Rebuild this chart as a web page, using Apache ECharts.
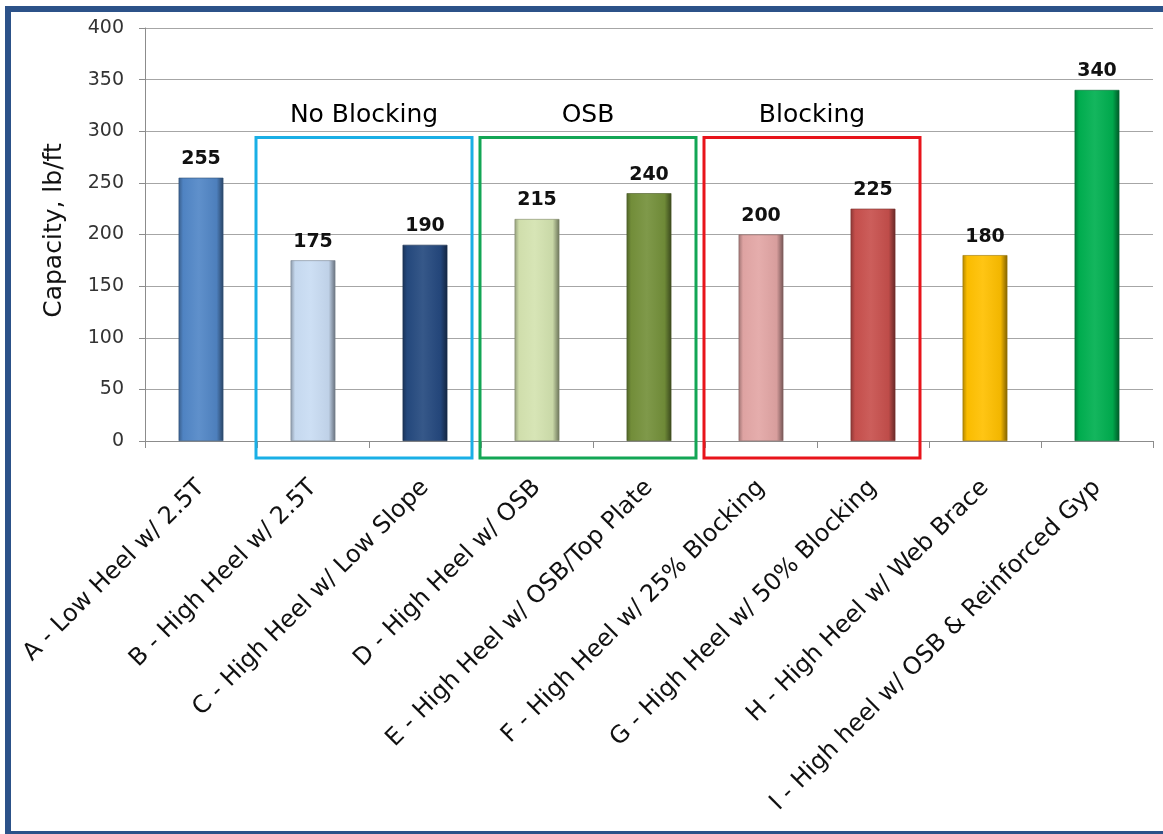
<!DOCTYPE html>
<html>
<head>
<meta charset="utf-8">
<script src="https://cdn.jsdelivr.net/npm/echarts@6/dist/echarts.min.js"></script>
<style>
  html, body { margin: 0; padding: 0; background: #ffffff; overflow: hidden; }
  #chart { position: absolute; left: 0; top: 0; width: 1163px; height: 834px; }
  #frame { position: absolute; left: 5px; top: 6px; width: 1180px; height: 831px;
           border: 6px solid #2C5289; box-sizing: border-box; pointer-events: none; }
</style>
</head>
<body>
<div id="chart"></div>
<div id="frame"></div>
<script>
// ---- data ----
const categories = [
  "A - Low Heel w/ 2.5T",
  "B - High Heel w/ 2.5T",
  "C - High Heel w/ Low Slope",
  "D - High Heel w/ OSB",
  "E - High Heel w/ OSB/Top Plate",
  "F - High Heel w/ 25% Blocking",
  "G - High Heel w/ 50% Blocking",
  "H - High Heel w/ Web Brace",
  "I - High heel w/ OSB & Reinforced Gyp"
];
const capacity = [255, 175, 190, 215, 240, 200, 225, 180, 340];
const barColors = ["#5186C6", "#C9DCF3", "#25497F", "#D4E3B0", "#74903A", "#E3A6A5", "#C8504D", "#FFC000", "#00B050"];
const yTicks = [0, 50, 100, 150, 200, 250, 300, 350, 400];
const groupNames = ["No Blocking", "OSB", "Blocking"];
const groupFirst = [1, 3, 5];   // first category index in group
const groupLast = [2, 4, 6];    // last category index in group
const groupColors = ["#1AAFE6", "#13A655", "#E8141B"];
const groupTopValue = 294;

// ---- helpers ----
function shade(hex, f) {
  const n = parseInt(hex.slice(1), 16);
  let r = (n >> 16) & 255, g = (n >> 8) & 255, b = n & 255;
  if (f < 0) { r = r * (1 + f); g = g * (1 + f); b = b * (1 + f); }
  else { r = r + (255 - r) * f; g = g + (255 - g) * f; b = b + (255 - b) * f; }
  return "rgb(" + Math.round(r) + "," + Math.round(g) + "," + Math.round(b) + ")";
}
function barFill(c) {
  return new echarts.graphic.LinearGradient(0, 0, 1, 0, [
    { offset: 0, color: shade(c, -0.3) },
    { offset: 0.1, color: shade(c, -0.02) },
    { offset: 0.45, color: shade(c, 0.08) },
    { offset: 0.85, color: shade(c, -0.05) },
    { offset: 1, color: shade(c, -0.5) }
  ]);
}

const chart = echarts.init(document.getElementById("chart"), null, { renderer: "canvas" });
const FONT = "DejaVu Sans";

const option = {
  animation: false,
  backgroundColor: "#ffffff",
  grid: { left: 145, right: 10, top: 28, bottom: 393, containLabel: false },
  xAxis: {
    type: "category",
    data: categories,
    axisLine: { show: true, lineStyle: { color: "#8C8C8C", width: 1 } },
    axisTick: { show: true, length: 7, lineStyle: { color: "#8C8C8C" } },
    axisLabel: {
      rotate: 45, margin: 43, interval: 0,
      fontFamily: FONT, fontSize: 24, color: "#111111"
    },
    splitLine: { show: false }
  },
  yAxis: {
    type: "value",
    min: 0, max: 400, interval: 50,
    name: "Capacity, lb/ft",
    nameLocation: "middle",
    nameGap: 78,
    nameTextStyle: { fontFamily: FONT, fontSize: 25, color: "#111111", padding: [0, 0, 0, 8] },
    axisLine: { show: true, lineStyle: { color: "#8C8C8C" } },
    axisTick: { show: true, length: 6, lineStyle: { color: "#8C8C8C" } },
    axisLabel: {
      margin: 21, fontFamily: FONT, fontSize: 19, color: "#333333",
      formatter: function (v) { return yTicks.indexOf(v) >= 0 ? String(v) : ""; }
    },
    splitLine: { show: true, lineStyle: { color: "#A6A6A6", width: 1 } }
  },
  series: [{
    type: "bar",
    data: capacity.map(function (v, i) {
      return { value: v, itemStyle: { color: barFill(barColors[i]), borderColor: shade(barColors[i], -0.4), borderWidth: 0.6 } };
    }),
    barWidth: "40%",
    label: {
      show: true, position: "top", distance: 9,
      fontFamily: FONT, fontWeight: "bold", fontSize: 19, color: "#111111"
    }
  }]
};
chart.setOption(option);

// ---- group boxes computed from the axis scales ----
function drawGroups() {
  const c0 = chart.convertToPixel({ xAxisIndex: 0 }, 0);
  const c1 = chart.convertToPixel({ xAxisIndex: 0 }, 1);
  const band = c1 - c0;
  const yZero = chart.convertToPixel({ yAxisIndex: 0 }, 0);
  const yTop = chart.convertToPixel({ yAxisIndex: 0 }, groupTopValue);
  const elements = [];
  groupNames.forEach(function (name, g) {
    const left = chart.convertToPixel({ xAxisIndex: 0 }, groupFirst[g]) - band / 2 - 1;
    const right = chart.convertToPixel({ xAxisIndex: 0 }, groupLast[g]) + band / 2 - 9;
    elements.push({
      type: "rect", silent: true, z: 100,
      shape: { x: left, y: yTop, width: right - left, height: yZero + 17 - yTop },
      style: { fill: "none", stroke: groupColors[g], lineWidth: 3 }
    });
    elements.push({
      type: "text", silent: true, z: 100,
      x: (left + right) / 2, y: yTop - 9,
      style: { text: name, fontFamily: FONT, fontSize: 25, fill: "#000000", align: "center", verticalAlign: "bottom" }
    });
  });
  chart.setOption({ graphic: elements });
}
drawGroups();
</script>
</body>
</html>
